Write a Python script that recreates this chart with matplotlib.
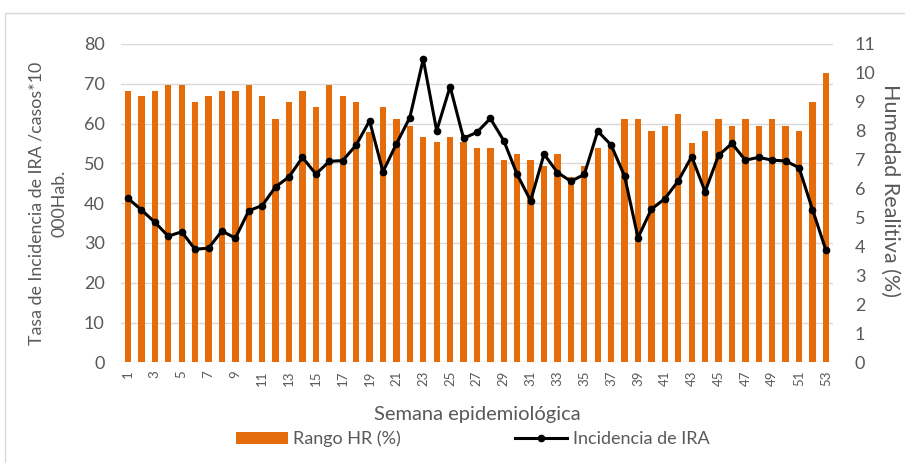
import numpy as np
import matplotlib
matplotlib.use("Agg")
import matplotlib.pyplot as plt
from matplotlib.patches import Rectangle

plt.rcParams['font.family'] = ['Lato', 'DejaVu Sans']

# semanas epidemiologicas 1..53
semanas = list(range(1, 54))

# Rango HR (%) por semana
rango_hr = [68.3, 66.9, 68.3, 69.8, 69.8, 65.5, 66.9, 68.3, 68.3, 69.8,
            66.9, 61.1, 65.5, 68.3, 64.1, 69.8, 66.9, 65.5, 58.0, 64.1,
            61.1, 59.5, 56.7, 55.3, 56.7, 55.3, 53.9, 53.9, 50.8, 52.3,
            50.8, 49.4, 52.3, 46.6, 49.4, 53.9, 53.9, 61.1, 61.1, 58.1,
            59.5, 62.5, 55.2, 58.1, 61.1, 59.5, 61.1, 59.5, 61.1, 59.5,
            58.1, 65.5, 72.8]

# Incidencia de IRA por semana
incidencia_ira = [41.2, 38.3, 35.2, 31.7, 32.8, 28.4, 28.7, 33.0, 31.2, 38.1,
                  39.4, 44.1, 46.6, 51.5, 47.3, 50.5, 50.7, 54.6, 60.7, 47.9,
                  54.9, 61.5, 76.2, 58.2, 69.3, 56.3, 57.8, 61.3, 55.7, 47.2,
                  40.6, 52.3, 47.7, 45.5, 47.2, 58.1, 54.6, 46.8, 31.3, 38.5,
                  41.1, 45.6, 51.7, 42.9, 52.0, 55.0, 50.8, 51.5, 50.8, 50.6,
                  48.9, 38.4, 28.2]

gris_texto = '#595959'
naranja = '#E46C0A'

fig = plt.figure(figsize=(9.05, 4.63), dpi=100)
ax = fig.add_axes([0.134, 0.2175, 0.786, 0.6875])

x = np.arange(len(semanas))
barras = ax.bar(x, rango_hr, width=0.47, color=naranja, zorder=2, label='Rango HR (%)')
linea, = ax.plot(x, incidencia_ira, color='black', lw=2.2, marker='o', ms=4.5,
                 zorder=3, label='Incidencia de IRA')

ax.set_xlim(-0.5, len(semanas) - 0.5)
ax.set_ylim(0, 80)
ax.set_yticks(range(0, 81, 10))
ax.yaxis.grid(True, color='#D9D9D9', lw=1, zorder=0)
ax.set_axisbelow(True)
for s in ax.spines.values():
    s.set_visible(False)
ax.tick_params(axis='y', length=0, pad=12, labelsize=13, labelcolor=gris_texto)
ax.set_xticks(x[::2])
ax.set_xticklabels([str(s) for s in semanas[::2]], rotation=90)
ax.tick_params(axis='x', length=0, pad=6, labelsize=9.5, labelcolor=gris_texto)

ax.set_ylabel('Tasa de Incidencia de IRA /casos*10\n000Hab.', fontsize=12.8,
              color=gris_texto, linespacing=1.5, multialignment='center')
ax.yaxis.set_label_coords(-0.076, 0.5)
ax.set_xlabel('Semana epidemiológica', fontsize=14.5, color=gris_texto, labelpad=14)

ax2 = ax.twinx()
ax2.set_ylim(0, 11)
ax2.set_yticks(range(0, 12))
for s in ax2.spines.values():
    s.set_visible(False)
ax2.tick_params(axis='y', length=0, pad=16, labelsize=13, labelcolor=gris_texto)
ax2.set_ylabel('Humedad Realitiva (%)', fontsize=15.5, color=gris_texto,
               rotation=270, labelpad=20)
ax2.yaxis.set_label_coords(1.095, 0.54)

leg = fig.legend(handles=[barras, linea], loc='center', ncol=2,
                 bbox_to_anchor=(0.522, 0.052), frameon=False, fontsize=13,
                 handlelength=2.9, handletextpad=0.3, columnspacing=6.3)
for t in leg.get_texts():
    t.set_color(gris_texto)

# marco del grafico
fig.add_artist(Rectangle((5 / 905, -0.01), 1.0, 1 - 13 / 463 + 0.01,
                         transform=fig.transFigure, fill=False,
                         edgecolor='#D9D9D9', lw=1))

fig.savefig('out.png', dpi=100)
